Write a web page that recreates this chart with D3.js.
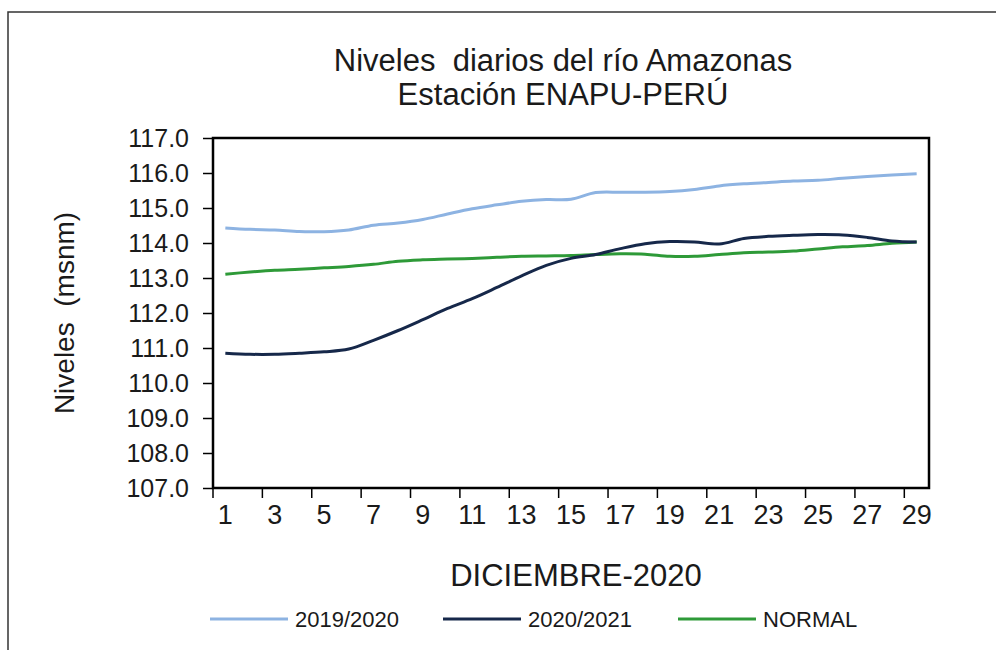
<!DOCTYPE html>
<html>
<head>
<meta charset="utf-8">
<script src="https://cdn.jsdelivr.net/npm/d3@7"></script>
<style>
  body { margin: 0; background: #fff; }
  text { font-family: "Liberation Sans", Arial, sans-serif; fill: #1a1a1a; }
</style>
</head>
<body>
<script>
// Datos (nivel en msnm por día de diciembre)
const days = [1, 2, 3, 4, 5, 6, 7, 8, 9, 10, 11, 12, 13, 14, 15, 16, 17, 18, 19, 20, 21, 22, 23, 24, 25, 26, 27, 28, 29];
const labelDays = [1, 3, 5, 7, 9, 11, 13, 15, 17, 19, 21, 23, 25, 27, 29];
const yTicks = [107, 108, 109, 110, 111, 112, 113, 114, 115, 116, 117];
const seriesNames = ["2019/2020", "2020/2021", "NORMAL"];
const s2019 = [114.43, 114.39, 114.37, 114.33, 114.32, 114.37, 114.51, 114.57, 114.67, 114.83, 114.98, 115.09, 115.19, 115.24, 115.25,
               115.44, 115.45, 115.45, 115.47, 115.53, 115.63, 115.69, 115.73, 115.77, 115.79, 115.85, 115.9, 115.94, 115.98];
const s2020 = [110.85, 110.82, 110.82, 110.85, 110.89, 110.97, 111.22, 111.5, 111.81, 112.13, 112.41, 112.73, 113.06, 113.36, 113.56,
               113.67, 113.84, 113.98, 114.04, 114.03, 113.97, 114.13, 114.19, 114.22, 114.24, 114.23, 114.16, 114.06, 114.03];
const sNormal = [113.11, 113.17, 113.22, 113.25, 113.29, 113.33, 113.39, 113.48, 113.52, 113.54, 113.56, 113.59, 113.62, 113.63, 113.64,
                 113.67, 113.69, 113.68, 113.62, 113.62, 113.67, 113.72, 113.74, 113.77, 113.83, 113.89, 113.93, 113.99, 114.03];
const colors = ["#8db3e2", "#16284a", "#2e9a38"];

var W = 996, H = 650;
var margin = {top: 138, right: 67, bottom: 162, left: 213};
var width = W - margin.left - margin.right;
var height = H - margin.top - margin.bottom;

var svg = d3.select("body").append("svg")
    .attr("width", W)
    .attr("height", H);

// Marco exterior
svg.append("rect")
    .attr("x", 8).attr("y", 12)
    .attr("width", 1000).attr("height", 700)
    .attr("fill", "none")
    .attr("stroke", "#333")
    .attr("stroke-width", 1.5);

// Título
svg.append("text")
    .attr("x", 563).attr("y", 71)
    .attr("text-anchor", "middle")
    .style("font-size", "31px")
    .style("white-space", "pre")
    .text("Niveles  diarios del río Amazonas");
svg.append("text")
    .attr("x", 563).attr("y", 105)
    .attr("text-anchor", "middle")
    .style("font-size", "31px")
    .text("Estación ENAPU-PERÚ");

var g = svg.append("g")
    .attr("transform", `translate(${margin.left}, ${margin.top})`);

// Escalas
const x = d3.scaleBand()
    .domain(days)
    .range([0, width])
    .padding(0);

const y = d3.scaleLinear()
    .domain([107, 117])
    .range([height, 0]);

// Eje Y
var yAxis = d3.axisLeft(y)
    .tickValues(yTicks)
    .tickFormat(d3.format(".1f"))
    .tickSize(10)
    .tickPadding(14);
var yg = g.append("g").call(yAxis);
yg.select(".domain").remove();
yg.selectAll("line").attr("stroke", "#000").attr("stroke-width", 1.5);
yg.selectAll("text")
    .style("font-size", "25px")
    .style("font-family", "Liberation Sans, Arial, sans-serif")
    .attr("fill", "#1a1a1a");

// Eje X: etiquetas en el centro de cada día impar, marcas en los bordes
var xAxis = d3.axisBottom(x)
    .tickValues(labelDays)
    .tickSize(0)
    .tickPadding(17);
var xg = g.append("g")
    .attr("transform", `translate(0, ${height})`)
    .call(xAxis);
xg.select(".domain").remove();
xg.selectAll("text")
    .style("font-size", "27px")
    .style("font-family", "Liberation Sans, Arial, sans-serif")
    .attr("fill", "#1a1a1a");
g.selectAll("line.xtick")
    .data(labelDays)
    .enter()
    .append("line")
    .attr("class", "xtick")
    .attr("x1", d => x(d))
    .attr("x2", d => x(d))
    .attr("y1", height)
    .attr("y2", height + 10)
    .attr("stroke", "#000")
    .attr("stroke-width", 1.5);

// Borde del área de trazado
g.append("rect")
    .attr("width", width)
    .attr("height", height)
    .attr("fill", "none")
    .attr("stroke", "#000")
    .attr("stroke-width", 2.5);

// Líneas
const line = d3.line()
    .x((d, i) => x(days[i]) + x.bandwidth() / 2)
    .y(d => y(d))
    .curve(d3.curveCatmullRom);

const allSeries = [s2019, s2020, sNormal];
[0, 2, 1].forEach(i => {
    g.append("path")
        .datum(allSeries[i])
        .attr("d", line)
        .attr("fill", "none")
        .attr("stroke", colors[i])
        .attr("stroke-width", 3)
        .attr("stroke-linejoin", "round");
});

// Títulos de ejes
svg.append("text")
    .attr("transform", "translate(74, 313) rotate(-90)")
    .attr("text-anchor", "middle")
    .style("font-size", "28px")
    .style("white-space", "pre")
    .text("Niveles  (msnm)");

svg.append("text")
    .attr("x", 576).attr("y", 586)
    .attr("text-anchor", "middle")
    .style("font-size", "31px")
    .text("DICIEMBRE-2020");

// Leyenda
const legendX = [210, 443, 678];
seriesNames.forEach((name, i) => {
    const row = svg.append("g")
        .attr("transform", `translate(${legendX[i]}, 619)`);
    row.append("line")
        .attr("x1", 0).attr("x2", 78)
        .attr("y1", 0).attr("y2", 0)
        .attr("stroke", colors[i])
        .attr("stroke-width", 3);
    row.append("text")
        .attr("x", 85).attr("y", 8)
        .style("font-size", "22px")
        .text(name);
});
</script>
</body>
</html>
